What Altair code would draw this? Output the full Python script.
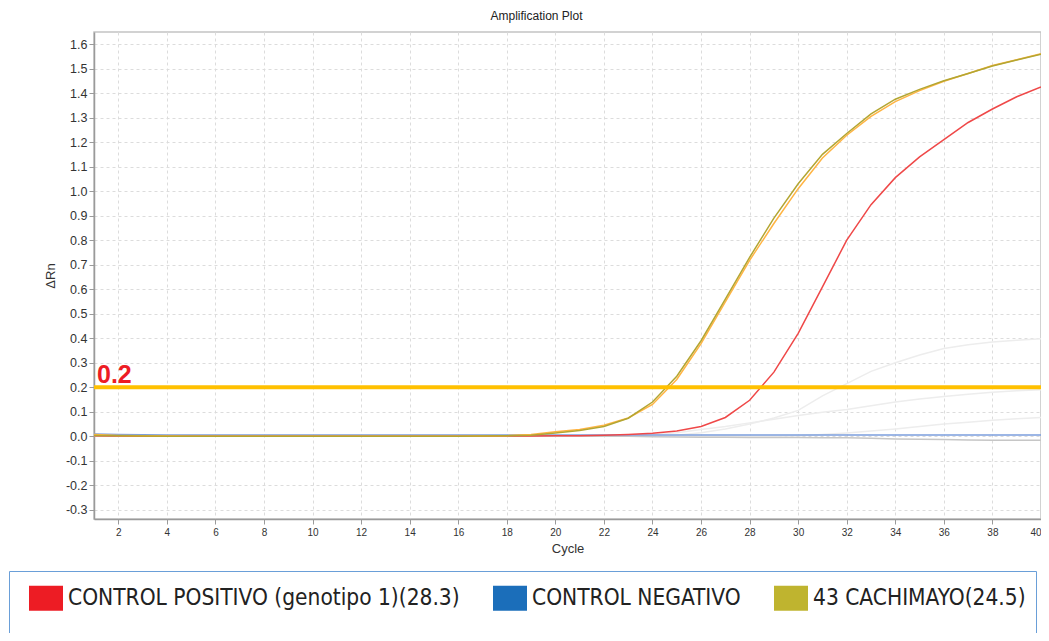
import altair as alt
import pandas as pd

# ---------------- data ----------------
cycles = list(range(1, 41))

threshold = 0.2

s_rep1 = "43 CACHIMAYO (rep 1)"
s_rep2 = "43 CACHIMAYO (rep 2)"
s_pos = "CONTROL POSITIVO"
s_neg = "CONTROL NEGATIVO"
s_ga = "otro A"
s_gb = "otro B"
s_gc = "otro C"
s_gd = "otro D"

rep1 = [0.004, 0.002, 0.001, 0.0, 0.0, 0.0, 0.0, 0.0, 0.0, 0.0, 0.0, 0.0, 0.0, 0.0, 0.0, 0.0,
        0.001, 0.002, 0.005, 0.014, 0.024, 0.040, 0.074, 0.140, 0.245, 0.390, 0.560, 0.730,
        0.890, 1.030, 1.150, 1.235, 1.315, 1.375, 1.415, 1.450, 1.480, 1.510, 1.535, 1.558]
rep2 = [0.008, 0.004, 0.002, 0.001, 0.0, 0.0, 0.0, 0.0, 0.0, 0.0, 0.0, 0.0, 0.0, 0.0, 0.0, 0.0,
        0.001, 0.003, 0.008, 0.019, 0.028, 0.045, 0.075, 0.130, 0.232, 0.378, 0.548, 0.718,
        0.868, 1.010, 1.135, 1.228, 1.305, 1.365, 1.410, 1.448, 1.480, 1.512, 1.536, 1.560]
pos = [0.002, 0.001, 0.0, 0.0, 0.0, 0.0, 0.0, 0.0, 0.0, 0.0, 0.0, 0.0, 0.0, 0.0, 0.0, 0.0,
       0.0, 0.001, 0.001, 0.002, 0.003, 0.005, 0.008, 0.013, 0.022, 0.040, 0.077, 0.147,
       0.262, 0.420, 0.610, 0.800, 0.945, 1.055, 1.140, 1.210, 1.280, 1.335, 1.385, 1.425]
neg = [0.010, 0.008, 0.007, 0.006, 0.006, 0.006, 0.006, 0.006, 0.006, 0.006, 0.006, 0.006,
       0.006, 0.006, 0.006, 0.006, 0.006, 0.006, 0.006, 0.006, 0.006, 0.006, 0.006, 0.006,
       0.006, 0.006, 0.006, 0.006, 0.006, 0.006, 0.006, 0.006, 0.006, 0.006, 0.006, 0.006,
       0.006, 0.006, 0.006, 0.006]
ga = [0.0] * 24 + [0.005, 0.015, 0.030, 0.050, 0.075, 0.106, 0.165, 0.215, 0.265, 0.300,
                   0.332, 0.358, 0.374, 0.385, 0.392, 0.398]
gb = [0.0] * 22 + [0.003, 0.008, 0.015, 0.028, 0.040, 0.055, 0.070, 0.085, 0.098, 0.110,
                   0.125, 0.140, 0.152, 0.163, 0.172, 0.180, 0.186, 0.190]
gc = [0.0] * 29 + [0.003, 0.008, 0.014, 0.022, 0.030, 0.040, 0.050, 0.058, 0.066, 0.072, 0.077]
gd = [0.0] * 23 + [-0.002, -0.003, -0.004, -0.004, -0.005, -0.005, -0.005, -0.006, -0.006,
                   -0.008, -0.011, -0.012, -0.013, -0.015, -0.016, -0.016, -0.016]

series = [(s_ga, ga), (s_gb, gb), (s_gc, gc), (s_gd, gd),
          (s_neg, neg), (s_pos, pos), (s_rep2, rep2), (s_rep1, rep1)]
line_colors = ["#EDEDED", "#EDEDED", "#EDEDED", "#C6C6C6",
               "#7C9FDD", "#EF4848", "#FFB443", "#B3A632"]

legend_labels = ["CONTROL POSITIVO (genotipo 1)(28.3)", "CONTROL NEGATIVO", "43 CACHIMAYO(24.5)"]
legend_colors = ["#ED1C24", "#1B6EBA", "#BFB42F"]

x_ticks = list(range(2, 41, 2))
y_ticks = [round(-0.3 + 0.1 * i, 1) for i in range(20)]

# ---------------- tables ----------------
rows = []
for name, vals in series:
    for c, v in zip(cycles, vals):
        rows.append({"cycle": c, "value": v, "series": name})
df = pd.DataFrame(rows)

thr_df = pd.DataFrame({"cycle": [cycles[0]], "value": [threshold], "label": [f"{threshold}"]})
leg_df = pd.DataFrame({"label": legend_labels})

FONT = "Liberation Sans"

x_axis = alt.Axis(values=x_ticks, title="Cycle", labelFontSize=10,
                  titleFontSize=13, titlePadding=5, labelPadding=3,
                  labelOverlap=False)
y_axis = alt.Axis(values=y_ticks, title="ΔRn", labelFontSize=12.5,
                  titleFontSize=13, titlePadding=8, labelPadding=2,
                  labelOverlap=False,
                  labelExpr="datum.value < -0.0001 ? '-' + format(-datum.value, '.1f') : format(abs(datum.value), '.1f')")
x_scale = alt.Scale(domain=[1, 40], nice=False, zero=False)
y_scale = alt.Scale(domain=[-0.337, 1.649], nice=False, zero=False)

lines = alt.Chart(df).mark_line(strokeWidth=1.5).encode(
    x=alt.X("cycle:Q", scale=x_scale, axis=x_axis),
    y=alt.Y("value:Q", scale=y_scale, axis=y_axis),
    color=alt.Color("series:N", scale=alt.Scale(domain=[s for s, _ in series], range=line_colors),
                    legend=None),
)

thr_rule = alt.Chart(thr_df).mark_rule(color="#FFC000", strokeWidth=4).encode(
    y=alt.Y("value:Q", scale=y_scale, axis=y_axis)
)

thr_text = alt.Chart(thr_df).mark_text(
    align="left", baseline="alphabetic", dx=3, dy=-4, fontSize=25, fontWeight="bold",
    font=FONT, color="#ED1C24"
).encode(
    x=alt.X("cycle:Q", scale=x_scale, axis=x_axis),
    y=alt.Y("value:Q", scale=y_scale, axis=y_axis),
    text="label:N",
)

legend_layer = alt.Chart(leg_df).mark_square(size=0, opacity=1).encode(
    fill=alt.Fill("label:N",
                  scale=alt.Scale(domain=legend_labels, range=legend_colors),
                  legend=alt.Legend(
                      orient="none", legendX=-85, legendY=539, direction="horizontal",
                      title=" ", titleOrient="bottom", titleFontSize=30, titlePadding=10,
                      symbolType="M-1,-0.735H1V0.735H-1Z", symbolSize=1156,
                      symbolStrokeWidth=0, symbolOpacity=1, symbolOffset=10,
                      labelFont="Liberation Sans Narrow, DejaVu Sans Condensed, sans-serif",
                      labelFontSize=22.5, labelColor="#222222", labelOffset=5,
                      labelLimit=700, columnPadding=23, padding=10,
                      strokeColor="#6A9FD8",
                  )),
)

chart = alt.layer(lines, thr_rule, thr_text, legend_layer).properties(
    width=947,
    height=487,
    padding={"left": 86, "top": 24, "right": 0, "bottom": 114},
    autosize=alt.AutoSizeParams(type="none"),
    title=alt.TitleParams("Amplification Plot", fontSize=12, font=FONT, fontWeight="normal",
                          color="#222222", offset=9, dx=-31, anchor="middle"),
).configure_view(
    stroke="#C4C4C4", strokeWidth=1.5
).configure_axis(
    labelFont=FONT, titleFont=FONT, labelColor="#333333", titleColor="#333333",
    titleFontWeight="normal", labelOverlap=False,
    domainColor="#9A9A9A", domainWidth=1.5, tickColor="#9A9A9A", tickSize=5,
    gridColor="#DCDCDC", gridDash=[3, 3], gridWidth=1,
)

chart.save("out.html", embed_options={"renderer": "svg", "actions": False})
